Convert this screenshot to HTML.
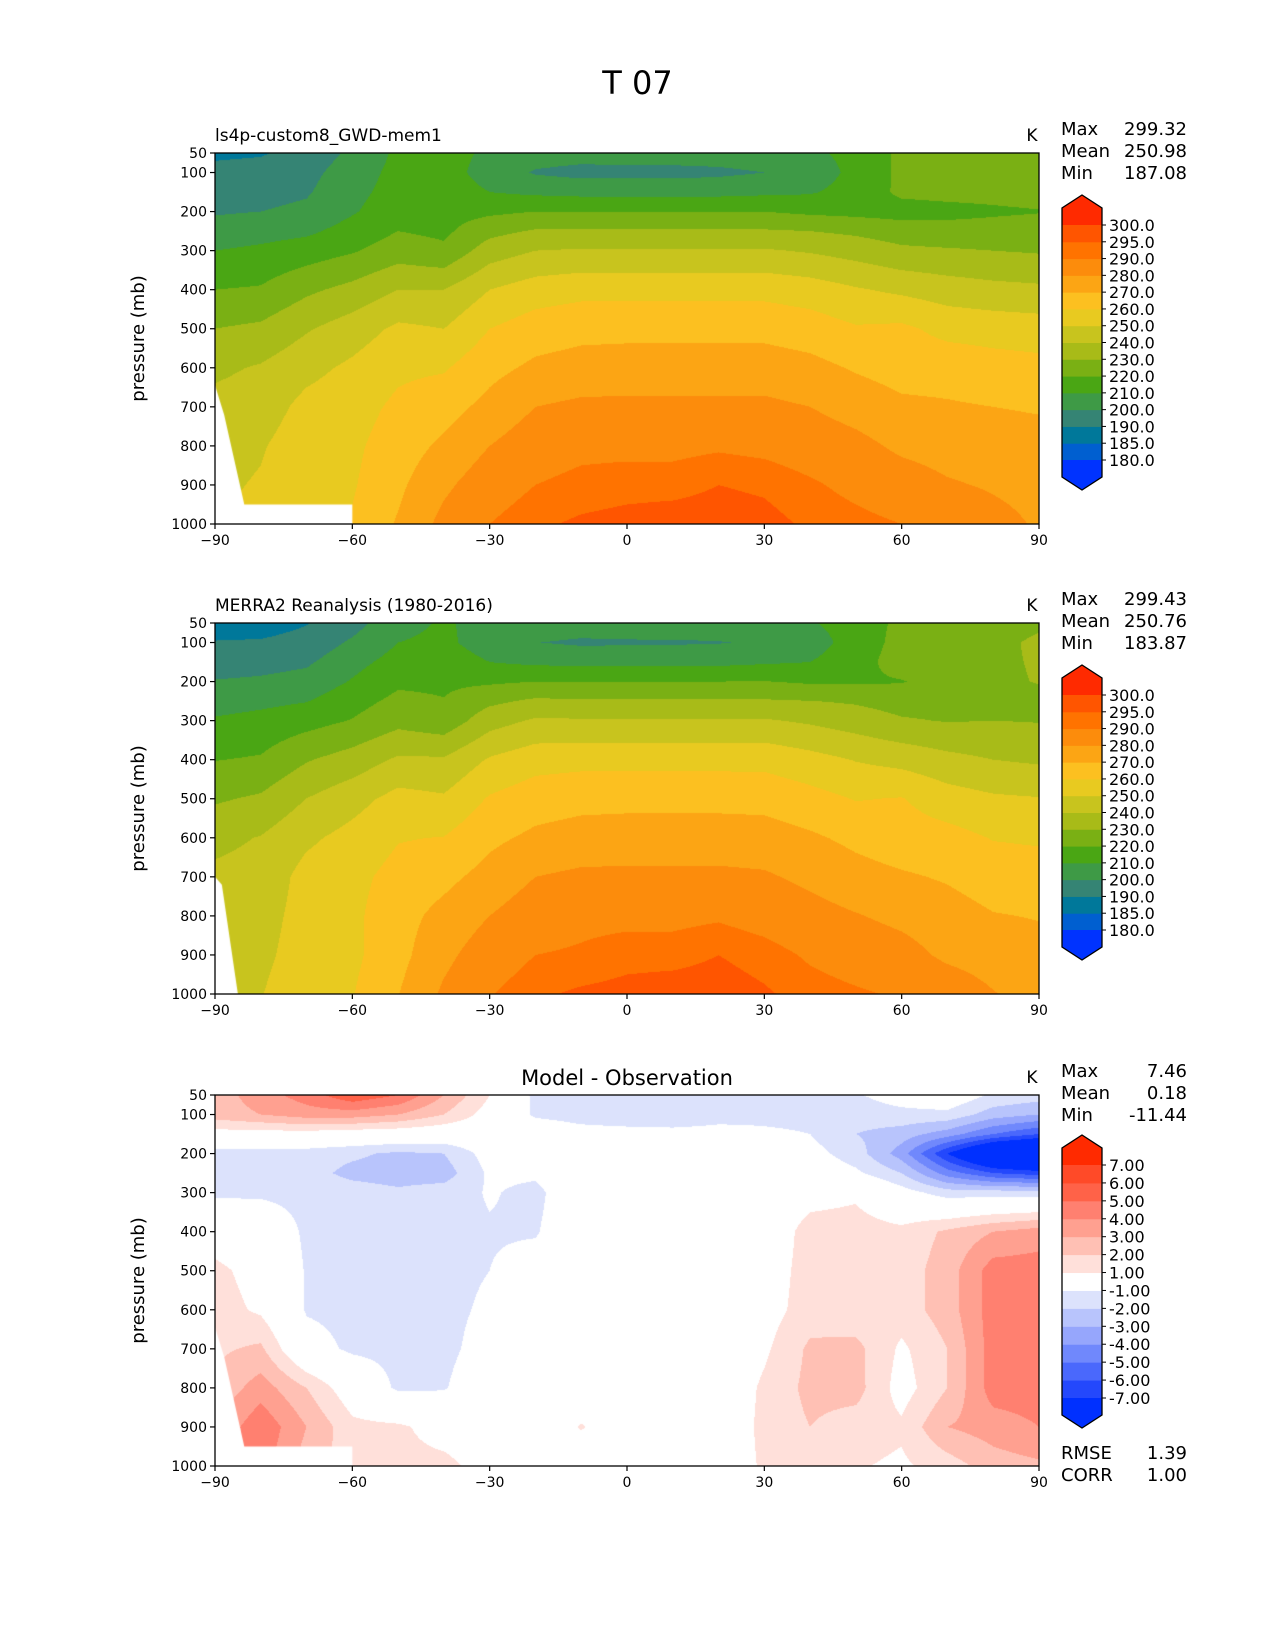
<!DOCTYPE html>
<html><head><meta charset="utf-8">
<style>
html,body{margin:0;padding:0;background:#fff;}
body{width:1275px;height:1650px;position:relative;overflow:hidden;font-family:"Liberation Sans","DejaVu Sans",sans-serif;color:#000;}
canvas{position:absolute;}
.t{position:absolute;white-space:nowrap;line-height:1;}
svg{position:absolute;left:0;top:0;}
</style></head>
<body>
<div class="t" style="left:0;width:1275px;text-align:center;top:67px;font-size:32px;font-family:'DejaVu Sans',sans-serif;">T 07</div>
<canvas id="c0" width="824" height="371" style="left:215px;top:153px"></canvas>
<canvas id="c1" width="824" height="371" style="left:215px;top:623px"></canvas>
<canvas id="c2" width="824" height="371" style="left:215px;top:1095px"></canvas>
<svg id="ov" width="1275" height="1650"></svg>
<script>
const LATS=[-90,-80,-70,-60,-50,-40,-30,-20,-10,0,10,20,30,40,50,60,70,80,90];
const LEVS=[50,100,150,200,250,300,400,500,600,700,800,900,1000];
const modelT=[
[188,193,196,199,204,210,220,230,238,243,246,248,250],
[189,194,197,200,206,212,221,232,241,245,249,251,253],
[194,197,199,202,208,215,228,239,247,253,256,258,260],
[202,205,207,209,214,219,233,245,252,256,258,259,261],
[212,213,214,216,220,225,240,252,258,262,265,268,271],
[214,214,215,216,218,222,240,250,259,266,272,278,283],
[208,206,210,218,227,235,250,260,267,273,280,286,290],
[205,199,208,220,231,240,255,265,272,280,286,290,294],
[204,197,207,220,231,241,257,267,274,282,288,292,296],
[205,197,207,220,231,241,257,267,275,282,288,293,297],
[205,197,207,220,231,241,257,267,275,282,288,293,298],
[205,198,207,220,231,241,257,267,275,282,289,295,298],
[206,200,208,220,231,241,257,267,275,282,288,294,297],
[208,204,209,218,230,239,255,265,273,280,286,291,294],
[213,213,214,217,228,236,251,261,269,276,283,288,292],
[222,222,222,216,225,232,248,262,266,272,278,285,290],
[223,223,223,217,224,231,245,257,266,271,276,281,288],
[224,224,223,218.5,224,230,243,256,264,270,275,279,283],
[225,225,224,219.5,225,229,242,255,263,269,274,277,279]];
const obsT=[
[185.5,190.5,195.5,200.5,205.5,211.2,219.7,228.7,237.5,242,245.5,247.5,249.5],
[185.5,191,196.5,201.5,207.5,213.2,221,231.5,240.5,243.5,246,247.5,249.5],
[189.5,193.5,198.5,203.5,209.6,216.3,229.2,240.1,248.1,253.5,254,255,257.5],
[196.2,201.5,206.7,210.8,216.3,220.5,234.3,246.3,253.3,257.2,257.8,257.7,259.5],
[207,210,213.8,218.2,222.5,226.8,241.5,253.4,259.4,263.3,266.2,266.8,269.7],
[211,212,215,218,220.5,223.5,241.3,251.3,260.3,267.3,273.1,277.5,281.7],
[207,205.5,210,218.5,227.8,235.9,251.1,261,267.8,273.5,280,285.7,289.5],
[206.3,200.2,208,220,231.8,241.3,256.1,265.5,272,280,286,290,294],
[205.3,198.5,207.5,220,231,241,257,267,274,282,288,290.9,296],
[206.3,198.8,207.5,220,231,241,257,267,275,282,288,293,297],
[206.3,199,207.5,220,231,241,257,267,275,282,288,293,298],
[206.3,199.5,207.5,220,231,241,257,267,275,282,289,295,298],
[207.3,201.3,208.8,220.3,231,241,257,266.7,274.5,281.2,286.8,292.7,295.8],
[209.2,205.3,210,218.6,230.2,238.5,253.5,263.5,271.5,277.8,283.7,289,292.7],
[214.1,214.5,216,218.5,228.8,235.2,249.5,259.5,267.7,273.7,280.6,286.5,290.9],
[222.5,223.3,224.5,219.5,226,231,246.7,260.5,264.5,271.2,277.5,283.8,289.2],
[223,224.3,225.5,224,226,229.5,242.8,254.5,263.5,269,274,278,286.5],
[225,227,228,228,226,230,240,251.5,259.5,265.5,270.5,275.5,280.5],
[228,232,231,230.5,227,229.5,238.5,250.5,258.7,264.5,269.5,273,276.2]];
const diffT=[
[2.5,2.5,0.5,-1.5,-1.5,-1.2,0.3,1.3,1.5,1.8,2.2,3,3],
[3.5,3,0.5,-1.5,-1.5,-1.2,0,0.5,0.8,2.2,3.5,4.8,4.5],
[4.5,3.5,0.5,-1.5,-1.6,-1.3,-1.2,-1.1,-1.1,-0.5,2,3,2.5],
[5.8,3.5,0.3,-1.8,-2.3,-1.5,-1.3,-1.3,-1.3,-1.2,0.2,1.3,1.5],
[5,3,0.2,-2.2,-2.5,-1.8,-1.5,-1.4,-1.4,-1.3,-1.2,1.2,1.3],
[3,2,0,-2,-2.5,-1.5,-1.3,-1.3,-1.3,-1.3,-1.1,0.5,1.3],
[1,0.5,0,-0.5,-0.8,-0.9,-1.1,-1,-0.8,-0.5,0,0.3,0.5],
[-1.3,-1.2,0,0,-0.8,-1.3,-1.1,-0.5,0,0,0,0,0],
[-1.3,-1.5,-0.5,0,0,0,0,0,0,0,0,1.1,0],
[-1.3,-1.8,-0.5,0,0,0,0,0,0,0,0,0,0],
[-1.3,-2,-0.5,0,0,0,0,0,0,0,0,0,0],
[-1.3,-1.5,-0.5,0,0,0,0,0,0,0,0,0,0],
[-1.3,-1.3,-0.8,-0.3,0,0,0,0.3,0.5,0.8,1.2,1.3,1.2],
[-1.2,-1.3,-1,-0.6,-0.2,0.5,1.5,1.5,1.5,2.2,2.3,2,1.3],
[-1.1,-1.5,-2,-1.5,-0.8,0.8,1.5,1.5,1.3,2.3,2.4,1.5,1.1],
[-0.5,-1.3,-2.5,-3.5,-2,-0.5,1.3,1.5,1.5,0.8,0.5,1.2,0.8],
[0,-1.3,-3.5,-7,-4.5,-1.5,2.2,2.5,2.5,2,2,3,1.5],
[-1.2,-2.5,-5,-10,-6,-1.5,3,4.5,4.5,4.5,4.5,3.5,2.5],
[-1.5,-3,-6,-11,-6.5,-1.5,3.5,4.5,4.3,4.5,4.5,4,2.8]];
const tBounds=[180,185,190,200,210,220,230,240,250,260,270,280,290,295,300];
const tColors=["#0033ff","#005fd0","#00789a","#358474","#3e9a46","#4aa614","#7ab014","#a8bb18","#c8c41e","#e8ca20","#fcc020","#fca514","#fc8c0c","#ff7300","#ff5500","#ff2a00"];
const tLabels=["180.0","185.0","190.0","200.0","210.0","220.0","230.0","240.0","250.0","260.0","270.0","280.0","290.0","295.0","300.0"];
const dBounds=[-7,-6,-5,-4,-3,-2,-1,1,2,3,4,5,6,7];
const dColors=["#0030ff","#2448fc","#4a68fc","#7088fc","#96a6fc","#b8c4fc","#dce2fc","#ffffff","#ffe0da","#ffc0b4","#ffa090","#ff8070","#ff6248","#ff4a28","#ff2a00"];
const dLabels=["-7.00","-6.00","-5.00","-4.00","-3.00","-2.00","-1.00","1.00","2.00","3.00","4.00","5.00","6.00","7.00"];
const maskLat1=[-90,-88,-83.6,-60,-60,-90];
const maskP1=[645,720,950,950,1000,1000];
const maskLat2=[-90,-88.5,-85,-90];
const maskP2=[700,720,1000,1000];
const statsModel=["299.32","250.98","187.08"];
const statsObs=["299.43","250.76","183.87"];
const statsDiff=["7.46","0.18","-11.44"];
const xTicks=[-90,-60,-30,0,30,60,90];
const xTickLabels=["\u221290","\u221260","\u221230","0","30","60","90"];
const yTicks=[50,100,200,300,400,500,600,700,800,900,1000];

const PX0=215,PW=824,PH=371;
const TOPS=[153,623,1095];
function xOf(lat){return (lat+90)/180*PW;}
function yOf(p){return (p-50)/950*PH;}
function idx(arr,v){for(let i=0;i<arr.length-2;i++){if(v<=arr[i+1])return i;}return arr.length-2;}
function interp(G,lat,p){
  const i=idx(LATS,lat),j=idx(LEVS,p);
  const fx=(lat-LATS[i])/(LATS[i+1]-LATS[i]),fy=(p-LEVS[j])/(LEVS[j+1]-LEVS[j]);
  const a=G[i][j],b=G[i+1][j],c=G[i][j+1],d=G[i+1][j+1];
  return (a*(1-fx)+b*fx)*(1-fy)+(c*(1-fx)+d*fx)*fy;
}
function hex(h){return [parseInt(h.substr(1,2),16),parseInt(h.substr(3,2),16),parseInt(h.substr(5,2),16)];}
function band(v,B){let k=0;while(k<B.length&&v>=B[k])k++;return k;}
function drawField(id,G,B,C,mLat,mP){
  const cv=document.getElementById(id),ctx=cv.getContext('2d');
  const img=ctx.createImageData(PW,PH);const rgb=C.map(hex);
  for(let y=0;y<PH;y++){const p=50+(y+0.5)/PH*950;
    for(let x=0;x<PW;x++){const lat=-90+(x+0.5)/PW*180;
      const c=rgb[band(interp(G,lat,p),B)];const o=(y*PW+x)*4;
      img.data[o]=c[0];img.data[o+1]=c[1];img.data[o+2]=c[2];img.data[o+3]=255;}}
  ctx.putImageData(img,0,0);
  ctx.fillStyle="#fff";ctx.beginPath();
  for(let k=0;k<mLat.length;k++){const X=xOf(mLat[k]),Y=yOf(mP[k]);if(k)ctx.lineTo(X,Y);else ctx.moveTo(X,Y);}
  ctx.closePath();ctx.fill();
}
drawField('c0',modelT,tBounds,tColors,maskLat1,maskP1);
drawField('c1',obsT,tBounds,tColors,maskLat2,maskP2);
drawField('c2',diffT,dBounds,dColors,maskLat1,maskP1);

const NS="http://www.w3.org/2000/svg";const ov=document.getElementById('ov');
function el(tag,attrs){const e=document.createElementNS(NS,tag);for(const k in attrs)e.setAttribute(k,attrs[k]);ov.appendChild(e);return e;}
function txt(s,x,y,size,anchor){const e=el('text',{x:x,y:y,'font-size':size,'text-anchor':anchor||'start','font-family':'DejaVu Sans, Liberation Sans, sans-serif'});e.textContent=s;return e;}

const titles=["ls4p-custom8_GWD-mem1","MERRA2 Reanalysis (1980-2016)",""];
const statSets=[statsModel,statsObs,statsDiff];
for(let k=0;k<3;k++){
  const T=TOPS[k];
  const fr=el('rect',{x:PX0,y:T,width:PW,height:PH,fill:'none',stroke:'#000','stroke-width':1.3});
  
  
  xTicks.forEach((v,i)=>{const X=PX0+xOf(v);
    const l=el('line',{x1:X,x2:X,y1:T+PH,y2:T+PH+5,stroke:'#000','stroke-width':1.2});
    
    
    const t=txt(xTickLabels[i],X,T+PH+21,14,'middle');
    
    });
  yTicks.forEach(v=>{const Y=T+yOf(v);
    const l=el('line',{x1:PX0-5,x2:PX0,y1:Y,y2:Y,stroke:'#000','stroke-width':1.2});
    
    
    const t=txt(String(v),PX0-8,Y+5,14,'end');
    
    });
  const yt=txt('pressure (mb)',0,0,18,'middle');
  yt.setAttribute('transform','translate(144,'+(T+PH/2)+') rotate(-90)');
  
  
  if(titles[k]){const t=txt(titles[k],PX0,T-12,17,'start');
    
    }
  else{const t=txt('Model - Observation',PX0+PW/2,T-10,21,'middle');
    
    }
  const ku=txt('K',PX0+PW-7,T-12,17,'middle');
  
  
  ["Max","Mean","Min"].forEach((n,i)=>{const Y=T-18+i*22;
    const a=txt(n,1061,Y,18,'start');
    
    
    const b=txt(statSets[k][i],1187,Y,18,'end');
    
    });
  const B=k<2?tBounds:dBounds,C=k<2?tColors:dColors,L=k<2?tLabels:dLabels;
  const n=B.length-1;
  const top=k<2?T+72:T+70, bot=k<2?T+307:T+303;
  const bh=(bot-top)/n;const bx=1062,bw=40,ext=30;
  for(let i=0;i<n;i++){const Y=bot-(i+1)*bh;
    const r=el('rect',{x:bx,y:Y,width:bw,height:bh+0.5,fill:C[i+1]});
    
    }
  const up=el('polygon',{points:`${bx},${top} ${bx},${top-ext+13} ${bx+bw/2},${top-ext} ${bx+bw},${top-ext+13} ${bx+bw},${top}`,fill:C[C.length-1]});
  
  
  const dn=el('polygon',{points:`${bx},${bot} ${bx},${bot+ext-13} ${bx+bw/2},${bot+ext} ${bx+bw},${bot+ext-13} ${bx+bw},${bot}`,fill:C[0]});
  
  
  const ol=el('polygon',{points:`${bx},${top} ${bx},${top-ext+13} ${bx+bw/2},${top-ext} ${bx+bw},${top-ext+13} ${bx+bw},${bot+ext-13} ${bx+bw/2},${bot+ext} ${bx},${bot+ext-13}`,fill:'none',stroke:'#000','stroke-width':1.3});
  
  
  for(let i=0;i<=n;i++){const Y=bot-i*bh;
    const l=el('line',{x1:bx+bw,x2:bx+bw+4,y1:Y,y2:Y,stroke:'#000','stroke-width':1});
    
    
    const t=txt(L[i],bx+bw+7,Y+6,16,'start');
    
    }
}
[["RMSE","1.39"],["CORR","1.00"]].forEach((r,i)=>{const Y=1459+i*22;
  const a=txt(r[0],1061,Y,18,'start');
  
  
  const b=txt(r[1],1187,Y,18,'end');
  
  });
</script>
</body></html>
